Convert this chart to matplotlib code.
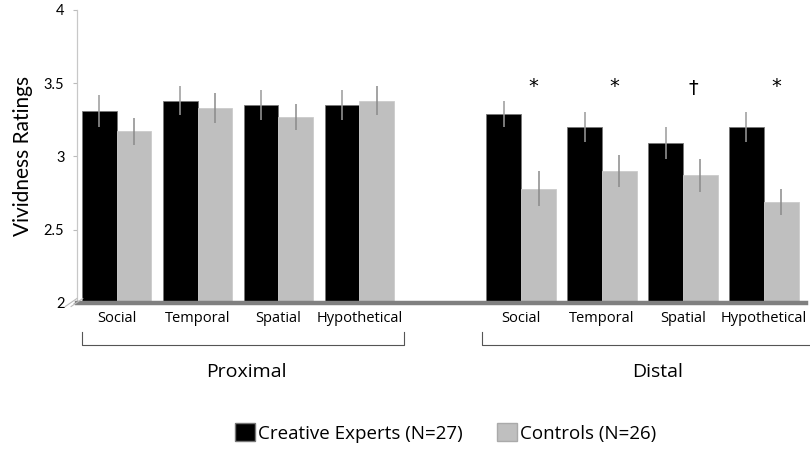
import numpy as np
import matplotlib.pyplot as plt
from matplotlib.patches import Patch
import matplotlib.transforms as mtransforms

# datos
categorias = ['Social', 'Temporal', 'Spatial', 'Hypothetical']
grupos = ['Proximal', 'Distal']
expertos = [3.31, 3.38, 3.35, 3.35, 3.29, 3.20, 3.09, 3.20]
controles = [3.17, 3.33, 3.27, 3.38, 2.78, 2.90, 2.87, 2.69]
err_expertos = [0.11, 0.10, 0.10, 0.10, 0.09, 0.10, 0.11, 0.10]
err_controles = [0.09, 0.10, 0.09, 0.10, 0.12, 0.11, 0.11, 0.09]
marcas = ['', '', '', '', '*', '*', '†', '*']
etiquetas_leyenda = ['Creative Experts (N=27)', 'Controls (N=26)']

fuente = ['Lato', 'DejaVu Sans']
fuente_estrecha = ['Open Sans', 'DejaVu Sans']

fig = plt.figure(figsize=(8.1, 4.5), dpi=100)
ax = fig.add_axes([0.095, 0.327, 0.90, 0.651])

# posiciones: 4 proximales, un hueco, 4 distales
pos = np.array([0, 1, 2, 3, 5, 6, 7, 8], dtype=float)
ancho = 0.43

ax.bar(pos - ancho / 2, np.array(expertos) - 2, ancho, bottom=2, color='black',
       edgecolor='#777777', linewidth=0.6, zorder=2)
ax.bar(pos + ancho / 2, np.array(controles) - 2, ancho, bottom=2, color='#bfbfbf',
       edgecolor='#cccccc', linewidth=0.6, zorder=2)
ax.errorbar(pos - ancho / 2, expertos, yerr=err_expertos, fmt='none',
            ecolor='#9a9a9a', elinewidth=1.1, capsize=0, zorder=3)
ax.errorbar(pos + ancho / 2, controles, yerr=err_controles, fmt='none',
            ecolor='#8a8a8a', elinewidth=1.1, capsize=0, zorder=3)

# asteriscos y daga
for p, m in zip(pos, marcas):
    if m == '*':
        ax.text(p + 0.15, 3.475, m, ha='center', va='center', fontsize=14,
                family=['DejaVu Sans'])
    elif m == '†':
        ax.text(p + 0.13, 3.465, m, ha='center', va='center', fontsize=14,
                family=['DejaVu Sans'])

ax.set_xlim(-0.49, 8.52)
ax.set_ylim(2, 4)
ax.set_yticks([2, 2.5, 3, 3.5, 4])
ax.set_yticklabels(['2', '2.5', '3', '3.5', '4'], family=fuente, fontsize=10.5)
ax.set_xticks([])
ax.tick_params(axis='y', length=3, color='#bbbbbb', pad=6)
for lado in ['top', 'right', 'bottom']:
    ax.spines[lado].set_visible(False)
ax.spines['left'].set_color('#c8c8c8')
ax.spines['left'].set_linewidth(0.9)
ax.axhline(2, color='#808080', linewidth=3.2, zorder=4, clip_on=False)
ax.set_ylabel('Vividness Ratings', family=fuente, fontsize=15, labelpad=8)

# marca de corte del eje
trans_px = mtransforms.blended_transform_factory(ax.transAxes, ax.transData)
for dx in [-0.008, 0.0]:
    ax.plot([dx - 0.008, dx + 0.008], [1.975, 2.03], color='#bbbbbb',
            linewidth=0.8, transform=trans_px, clip_on=False, zorder=5)

# etiquetas de categoria y llaves
trans = mtransforms.blended_transform_factory(ax.transData, ax.transAxes)
for i, p in enumerate(pos):
    ax.text(p, -0.055, categorias[i % 4], ha='center', va='center',
            fontsize=10.5, family=fuente_estrecha, transform=trans)

llaves = [(-0.43, 3.55), (4.52, 8.6)]
centros = [1.6, 6.68]
for g, (a, b) in enumerate(llaves):
    y0, y1 = -0.1, -0.145
    ax.plot([a, a, b, b], [y0, y1, y1, y0], color='#555555', linewidth=0.8,
            transform=trans, clip_on=False)
    ax.text(centros[g], -0.235, grupos[g], ha='center', va='center',
            fontsize=14, family=fuente_estrecha, transform=trans)

# leyenda
manijas = [Patch(facecolor='black', edgecolor='#777777'),
           Patch(facecolor='#bfbfbf', edgecolor='#aaaaaa')]
fig.legend(manijas, etiquetas_leyenda, loc='center', bbox_to_anchor=(0.55, 0.038),
           ncol=2, frameon=False, handlelength=1.1, handleheight=1.1,
           handletextpad=0.15, columnspacing=1.8,
           prop={'family': fuente_estrecha, 'size': 13.5})

fig.savefig('out.png', dpi=100)
